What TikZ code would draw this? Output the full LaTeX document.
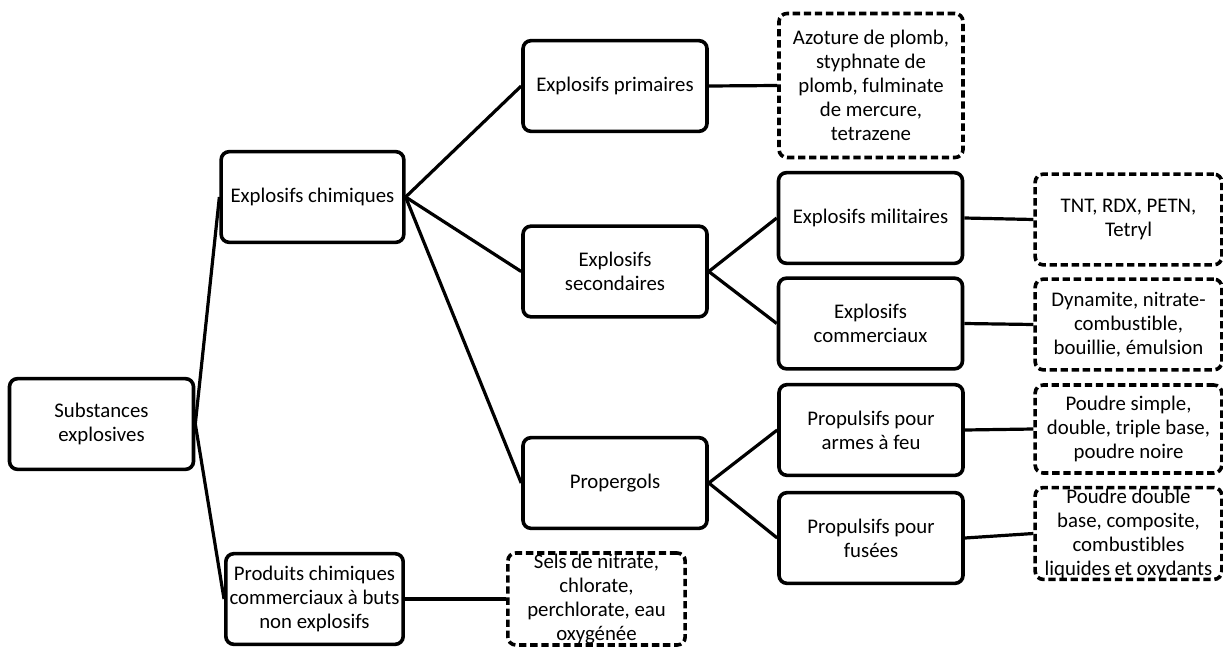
\documentclass[tikz,border=0pt]{standalone}
\usepackage{fontspec}
\setmainfont{Carlito}[Ligatures=NoCommon]
\usepackage{tikz}
\usepackage{xcolor}

\begin{document}
\begin{tikzpicture}[x=0.75pt,y=0.75pt,yscale=-1,xscale=1,
  box/.style={draw={rgb, 255:red, 0; green, 0; blue, 0 },line width=2.7pt,rounded corners=6pt,
    align=center,inner sep=0.75pt,minimum width=138pt,minimum height=68pt,
    font=\fontsize{15.6}{18}\selectfont},
  dbox/.style={box,dash pattern=on 5.5pt off 2.8pt},
  link/.style={draw={rgb, 255:red, 0; green, 0; blue, 0 },line width=2.4pt}]
\useasboundingbox (0,0) rectangle (1223,646);

%Rounded Rect
\node [box] (subst) at (101.5,424) {Substances\\explosives};
%Rounded Rect
\node [box,minimum width=137pt] (chim) at (312.5,197) {Explosifs chimiques};
%Rounded Rect
\node [box,minimum width=133pt] (prod) at (314.5,599) {Produits chimiques\\commerciaux à buts\\non explosifs};
%Rounded Rect
\node [box] (prim) at (615,86) {Explosifs primaires};
%Rounded Rect
\node [box] (second) at (615,271.5) {Explosifs\\secondaires};
%Rounded Rect
\node [box] (proper) at (615,483) {Propergols};
%Rounded Rect
\node [box] (milit) at (870.5,218) {Explosifs militaires};
%Rounded Rect
\node [box] (comm) at (870.5,323.5) {Explosifs\\commerciaux};
%Rounded Rect
\node [box] (armes) at (871,430) {Propulsifs pour\\armes à feu};
%Rounded Rect
\node [box] (fusees) at (871,538) {Propulsifs pour\\fusées};

%Rounded Rect (dashed)
\node [dbox,minimum height=108pt] (azot) at (871,85.5) {Azoture de plomb,\\styphnate de\\plomb, fulminate\\de mercure,\\tetrazene};
%Rounded Rect (dashed)
\node [dbox,minimum width=140pt] (tnt) at (1128.5,219.5) {TNT, RDX, PETN,\\Tetryl};
%Rounded Rect (dashed)
\node [dbox,minimum width=140pt] (dyna) at (1128.5,324.5) {Dynamite, nitrate-\\combustible,\\bouillie, émulsion};
%Rounded Rect (dashed)
\node [dbox,minimum width=140pt,minimum height=66pt] (poudsimp) at (1128.5,429) {Poudre simple,\\double, triple base,\\poudre noire};
%Rounded Rect (dashed)
\node [dbox,minimum width=140pt,minimum height=65pt] (pouddoub) at (1128.5,533.5) {Poudre double\\base, composite,\\combustibles\\liquides et oxydants};
%Rounded Rect (dashed)
\node [dbox,minimum width=133pt] (sels) at (596.5,599) {Sels de nitrate,\\chlorate,\\perchlorate, eau\\oxygénée};

%Straight Lines
\draw [link] (subst.east) -- (chim.west);
\draw [link] (subst.east) -- (prod.west);
%Straight Lines
\draw [link] (chim.east) -- (prim.west);
\draw [link] (chim.east) -- (second.west);
\draw [link] (chim.east) -- (proper.west);
%Straight Lines
\draw [link] (second.east) -- (milit.west);
\draw [link] (second.east) -- (comm.west);
\draw [link] (proper.east) -- (armes.west);
\draw [link] (proper.east) -- (fusees.west);
%Straight Lines
\draw [link] (prim.east) -- (azot.west);
\draw [link] (milit.east) -- (tnt.west);
\draw [link] (comm.east) -- (dyna.west);
\draw [link] (armes.east) -- (poudsimp.west);
\draw [link] (fusees.east) -- (pouddoub.west);
\draw [link] (prod.east) -- (sels.west);

\end{tikzpicture}
\end{document}
